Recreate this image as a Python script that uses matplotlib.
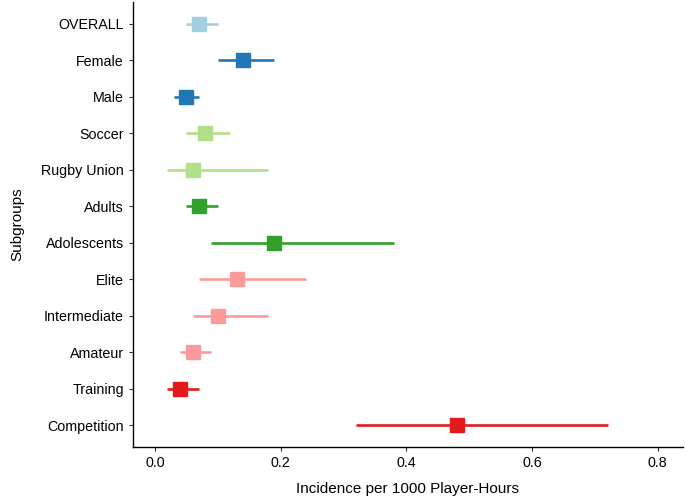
import numpy as np
import matplotlib
matplotlib.use("Agg")
import matplotlib.pyplot as plt

plt.rcParams['font.family'] = ['Liberation Sans', 'DejaVu Sans']

groups = ["OVERALL", "Female", "Male", "Soccer", "Rugby Union", "Adults",
          "Adolescents", "Elite", "Intermediate", "Amateur", "Training", "Competition"]
est = [0.07, 0.14, 0.05, 0.08, 0.06, 0.07, 0.19, 0.13, 0.10, 0.06, 0.04, 0.48]
lower = [0.05, 0.10, 0.03, 0.05, 0.02, 0.05, 0.09, 0.07, 0.06, 0.04, 0.02, 0.32]
upper = [0.10, 0.19, 0.07, 0.12, 0.18, 0.10, 0.38, 0.24, 0.18, 0.09, 0.07, 0.72]
colors = ["#a6cee3", "#1f78b4", "#1f78b4", "#b2df8a", "#b2df8a", "#33a02c",
          "#33a02c", "#fb9a99", "#fb9a99", "#fb9a99", "#e31a1c", "#e31a1c"]

fig = plt.figure(figsize=(6.85, 4.96), dpi=100)
ax = fig.add_axes([0.194, 0.099, 0.803, 0.897])

n = len(groups)
ypos = np.arange(n, 0, -1)
for y, e, lo, hi, c in zip(ypos, est, lower, upper, colors):
    ax.plot([lo, hi], [y, y], color=c, lw=1.9, solid_capstyle='butt', zorder=2)
    ax.plot(e, y, marker='s', ms=10, color=c, mec=c, zorder=3)

ax.set_yticks(ypos)
ax.set_yticklabels(groups)
ax.set_ylim(0.4, n + 0.6)
ax.set_xlim(-0.035, 0.84)
ax.set_xticks([0.0, 0.2, 0.4, 0.6, 0.8])
ax.set_xticklabels(["0.0", "0.2", "0.4", "0.6", "0.8"])
ax.tick_params(labelsize=10.3, colors="#333333", length=3, width=0.8)
ax.tick_params(labelcolor="black")
for s in ["top", "right"]:
    ax.spines[s].set_visible(False)
for s in ["left", "bottom"]:
    ax.spines[s].set_linewidth(1.0)
ax.set_xlabel("Incidence per 1000 Player-Hours", fontsize=11, labelpad=9)
ax.set_ylabel("Subgroups", fontsize=11, labelpad=12)

fig.savefig("out.png", dpi=100)
